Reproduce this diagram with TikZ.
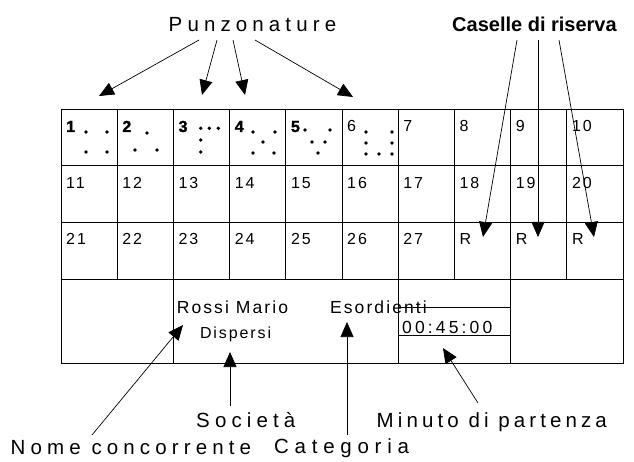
\documentclass[tikz,border=0pt]{standalone}
\usepackage{fontspec}
\setmainfont{Liberation Sans}
\newfontfamily\widefont[LetterSpace=25]{Liberation Sans}
\newfontfamily\widerfont[LetterSpace=28]{Liberation Sans}
\newfontfamily\minfont[LetterSpace=20]{Liberation Sans}
\newfontfamily\midfont[LetterSpace=12]{Liberation Sans}
\newfontfamily\heavyfont[LetterSpace=12,BoldFeatures={FakeBold=1.5}]{Liberation Sans}
\newfontfamily\timefont[LetterSpace=18]{Liberation Sans}
\usetikzlibrary{arrows.meta}
\begin{document}
\begin{tikzpicture}[x=1pt,y=-1pt,
  gridline/.style={line width=0.9pt},
  arr/.style={line width=0.7pt,-{Triangle[length=15pt,width=13pt]}},
  big/.style={anchor=base west,inner sep=0pt,font=\fontsize{20.5}{21}\widefont},
  bigbold/.style={anchor=base west,inner sep=0pt,font=\fontsize{20}{20}\selectfont\bfseries},
  cnum/.style={anchor=base west,inner sep=0pt,font=\fontsize{16}{16}\midfont},
  cnumb/.style={anchor=base west,inner sep=0pt,font=\fontsize{16}{16}\heavyfont\bfseries},
  intext/.style={anchor=base west,inner sep=0pt,font=\fontsize{17.5}{17}\midfont},
  dot/.style={fill=black}]
\useasboundingbox (0,0) rectangle (634,462);
\fill[white] (0,0) rectangle (634,462);
% grid
\draw[gridline] (61,109) rectangle (623,363);
\foreach \y in {165.7,222.3,279} \draw[gridline] (61,\y) -- (623,\y);
\foreach \i in {1,...,9} \draw[gridline] ({61+\i*56.2},109) -- ({61+\i*56.2},279);
\draw[gridline] (173.4,279) -- (173.4,363);
\draw[gridline] (398.2,279) -- (398.2,363);
\draw[gridline] (510.6,279) -- (510.6,363);
\draw[gridline] (398.2,307) -- (510.6,307);
\draw[gridline] (398.2,335) -- (510.6,335);
% numbers
\foreach \n in {1,...,5} \node[cnumb] (n\n) at ({61+(\n-1)*56.2+5},132) {\n};
\foreach \n in {6,...,10} \node[cnum] (n\n) at ({61+(\n-1)*56.2+5},132) {\n};
\foreach \n in {11,...,20} \node[cnum] (n\n) at ({61+(\n-11)*56.2+5},188.5) {\n};
\foreach \n in {21,...,27} \node[cnum] (n\n) at ({61+(\n-21)*56.2+5},245) {\n};
\foreach \i/\nm in {7/ra,8/rb,9/rc} \node[cnum] (\nm) at ({61+\i*56.2+5},245) {R};
% punch dots
\foreach \p in {(86,132),(107,132),(86,152),(107,152),
  (147,133),(135,150),(157,150),
  (200.7,128.3),(209.3,128.3),(218.3,128.3),(200.7,140),(200.7,152),
  (253,132),(275,132),(263,142),(253,153),(274,153),
  (305,130),(330,130),(312,142),(325,142),(318,153),
  (366,132),(392,132),(366,143),(392,143),(366,154),(379,154),(392,154)}
  \fill[dot] \p circle (1.9);
% bottom row texts
\node[intext] (nome) at (176.6,313) {Rossi Mario};
\node[intext,font=\fontsize{16}{16}\midfont] (soc) at (199.8,338) {Dispersi};
\node[intext] (cat) at (329.9,313) {Esordienti};
\node[intext,font=\fontsize{17.5}{17}\timefont] (ora) at (402,333) {00:45:00};
% top labels
\node[big] (punz) at (168.5,32) {Punzonature};
\node[bigbold] (cas) at (452,32) {Caselle di riserva};
% bottom labels
\node[big] (lnome) at (10.5,454) {Nome concorrente};
\node[big] (lsoc) at (196,427) {Società};
\node[big,font=\fontsize{20.5}{21}\widerfont] (lcat) at (274,453) {Categoria};
\node[big,font=\fontsize{20.5}{21}\minfont] (lmin) at (376.5,427) {Minuto di partenza};
% connector coordinates
\coordinate (p1) at (199,40); \coordinate (t1) at (99,96);
\coordinate (p2) at (217,40); \coordinate (t2) at (202,95);
\coordinate (p3) at (233,40); \coordinate (t3) at (245,95);
\coordinate (p4) at (255,40); \coordinate (t4) at (353,97);
\coordinate (c1) at (517,40); \coordinate (r1) at (483,237);
\coordinate (c2) at (538,40); \coordinate (r2) at (538,237);
\coordinate (c3) at (559,40); \coordinate (r3) at (594,237);
\coordinate (b1) at (92,435); \coordinate (u1) at (183,325);
\coordinate (b2) at (230,406); \coordinate (u2) at (230,352);
\coordinate (b3) at (347,435); \coordinate (u3) at (347,322);
\coordinate (b4) at (478,403); \coordinate (u4) at (443,348);
\foreach \a/\b in {p1/t1,p2/t2,p3/t3,p4/t4,c1/r1,c2/r2,c3/r3,b1/u1,b2/u2,b3/u3,b4/u4}
  \draw[arr] (\a) -- (\b);
\end{tikzpicture}
\end{document}
